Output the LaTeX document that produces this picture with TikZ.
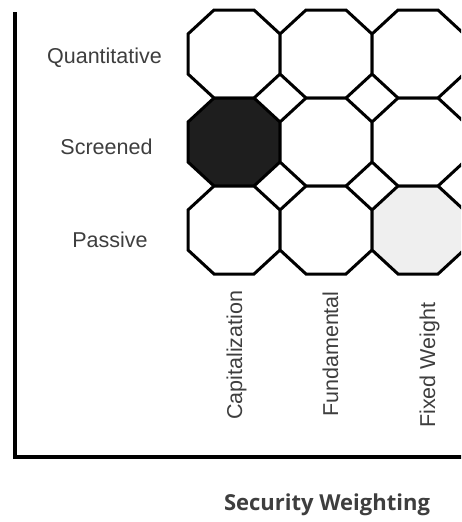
\documentclass[tikz,border=0pt]{standalone}
\usepackage{fontspec}
\setmainfont{Liberation Sans}
\newfontfamily\titlefont{Open Sans}
\definecolor{txt}{HTML}{3E3E3E}
\definecolor{dark}{HTML}{1E1E1E}
\definecolor{light}{HTML}{EFEFEF}
\begin{document}
\begin{tikzpicture}[x=1pt,y=-1pt,
  oct/.style={draw=black,line width=3pt,line join=miter},
  rowlab/.style={anchor=base,inner sep=0pt,text=txt,font=\fontsize{21.5}{24}\selectfont},
  collab/.style={anchor=base west,rotate=90,inner sep=0pt,text=txt,font=\fontsize{21.5}{24}\selectfont},
  axis/.style={draw=black,line width=3.5pt,line join=miter}]
\useasboundingbox (0,0) rectangle (461,522);
\clip (0,0) rectangle (461,522);
\fill[white] (0,0) rectangle (461,522);
% octagons: cx, cy, fill
\foreach \cx/\cy/\fc [count=\i] in {234/54/white,326/54/white,418/54/white,
                                    234/142/dark,326/142/white,418/142/white,
                                    234/230/white,326/230/white,418/230/light}{
  \pgfmathsetmacro{\xa}{\cx-46}\pgfmathsetmacro{\xb}{\cx-20}
  \pgfmathsetmacro{\xc}{\cx+20}\pgfmathsetmacro{\xd}{\cx+46}
  \pgfmathsetmacro{\ya}{\cy-44}\pgfmathsetmacro{\yb}{\cy-20}
  \pgfmathsetmacro{\yc}{\cy+20}\pgfmathsetmacro{\yd}{\cy+44}
  \coordinate (o\i) at (\cx,\cy);
  \draw[oct,fill=\fc] (\xb,\ya) -- (\xc,\ya) -- (\xd,\yb) -- (\xd,\yc) -- (\xc,\yd)
     -- (\xb,\yd) -- (\xa,\yc) -- (\xa,\yb) -- cycle;
}
% axes
\coordinate (top) at (15,12);
\coordinate (corner) at (15,457);
\coordinate (right) at (470,457);
\draw[axis] (top) -- (corner) -- (right);
% row labels
\node[rowlab] (q) at (104.5,63) {Quantitative};
\node[rowlab] (s) at (106.5,154) {Screened};
\node[rowlab] (p) at (110,247) {Passive};
% column labels
\node[collab] (c1) at (242,420) {Capitalization};
\node[collab] (c2) at (338,417) {Fundamental};
\node[collab] (c3) at (435,428) {Fixed Weight};
% axis title
\node[anchor=base,inner sep=0pt,text=txt,font=\titlefont\bfseries\fontsize{22}{26}\selectfont] (t) at (327,510) {Security Weighting};
\end{tikzpicture}
\end{document}
